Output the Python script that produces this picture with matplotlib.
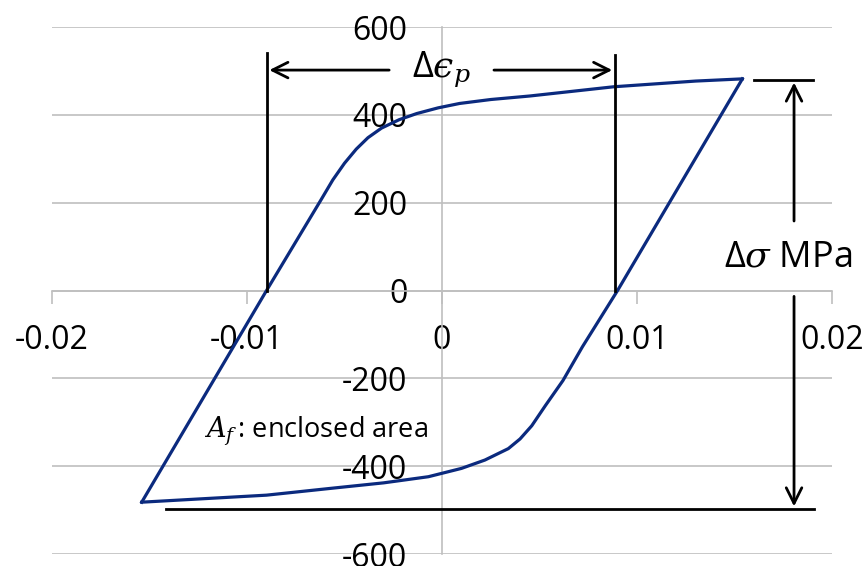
import matplotlib
matplotlib.use("Agg")
import matplotlib.pyplot as plt

plt.rcParams['font.family'] = ['Open Sans', 'DejaVu Sans']
plt.rcParams['axes.unicode_minus'] = False
plt.rcParams['mathtext.fontset'] = 'custom'
plt.rcParams['mathtext.rm'] = 'Open Sans'
plt.rcParams['mathtext.it'] = 'DejaVu Serif:italic'
plt.rcParams['mathtext.cal'] = 'DejaVu Serif:italic'

# Hysteresis loop: loading branch (bottom-left tip -> top-right tip)
upper_strain = [-0.0154, -0.0090, -0.0062, -0.0056, -0.0050, -0.0044, -0.0038, -0.0031, -0.0022,
                -0.0013, -0.0002, 0.0009, 0.0025, 0.0045, 0.0088, 0.0130, 0.0154]
upper_stress = [-482, 0, 207, 252, 290, 322, 348, 370, 389, 403, 416, 426, 435, 443, 464, 477, 482]
# Unloading branch (top-right tip -> bottom-left tip)
lower_strain = [0.0154, 0.0090, 0.0072, 0.0062, 0.0053, 0.0046, 0.0040, 0.0034, 0.0022, 0.0010,
                -0.0007, -0.0030, -0.0056, -0.0090, -0.0154]
lower_stress = [482, 0, -128, -205, -262, -308, -338, -360, -386, -405, -424, -438, -450, -466, -482]

x_ticks = [-0.02, -0.01, 0, 0.01, 0.02]
x_tick_labels = ["-0.02", "-0.01", "0", "0.01", "0.02"]
y_ticks = [-600, -400, -200, 0, 200, 400, 600]
y_tick_labels = ["-600", "-400", "-200", "0", "200", "400", "600"]

# Annotation values
eps_left, eps_right = -0.0090, 0.00887
sigma_top, sigma_bottom = 480, -498

fig = plt.figure(figsize=(8.67, 5.66), dpi=100)
ax = fig.add_axes([0.06, 0.0212, 0.8997, 0.931])
ax.set_xlim(-0.02, 0.02)
ax.set_ylim(-600, 600)

grid_c = '#bfbfbf'
for s in ['top', 'right']:
    ax.spines[s].set_visible(False)
ax.spines['left'].set_position(('data', 0))
ax.spines['bottom'].set_position(('data', 0))
ax.spines['left'].set_color(grid_c)
ax.spines['bottom'].set_color(grid_c)
ax.spines['left'].set_linewidth(1.2)
ax.spines['bottom'].set_linewidth(1.2)

ax.set_xticks(x_ticks)
ax.set_xticklabels(x_tick_labels)
ax.set_yticks(y_ticks)
ax.set_yticklabels(y_tick_labels)
ax.tick_params(axis='x', direction='out', length=9, width=1.2, color=grid_c,
               labelsize=23, pad=15, labelcolor='black')
ax.tick_params(axis='y', length=0, labelsize=23, pad=25, labelcolor='black')
ax.yaxis.grid(True, color=grid_c, linewidth=1.2)
ax.set_axisbelow(True)

line_c = '#0b2a7e'
ax.plot(upper_strain, upper_stress, color=line_c, lw=2.3, zorder=3)
ax.plot(lower_strain, lower_stress, color=line_c, lw=2.3, zorder=3)

k = dict(color='black', lw=2.0, clip_on=False, zorder=4)
# Δϵ_p markers
ax.plot([eps_left, eps_left], [0, 540], **k)
ax.plot([eps_right, eps_right], [0, 537], **k)
arr = dict(arrowstyle='->', color='black', lw=2.0, mutation_scale=28)
ax.annotate('', xy=(eps_left, 502), xytext=(-0.00257, 502), arrowprops=arr)
ax.annotate('', xy=(eps_right, 502), xytext=(0.00252, 502), arrowprops=arr)
ax.text(-0.00005, 502, '$\u0394\u03f5_p$', fontsize=26, ha='center', va='center')

# Δσ markers
ax.plot([0.0160, 0.01903], [sigma_top, sigma_top], **k)
ax.plot([-0.01415, 0.01908], [sigma_bottom, sigma_bottom], **k)
ax.annotate('', xy=(0.01805, sigma_top), xytext=(0.01805, 152), arrowprops=arr,
            annotation_clip=False)
ax.annotate('', xy=(0.01805, sigma_bottom), xytext=(0.01805, -7), arrowprops=arr,
            annotation_clip=False)
ax.text(0.01774, 75, r'$\Delta\sigma$ MPa', fontsize=26, ha='center', va='center')

ax.text(-0.0122, -320, r'$A_f\,$: enclosed area', fontsize=19.5, ha='left', va='center')

fig.savefig('out.png', dpi=100)
